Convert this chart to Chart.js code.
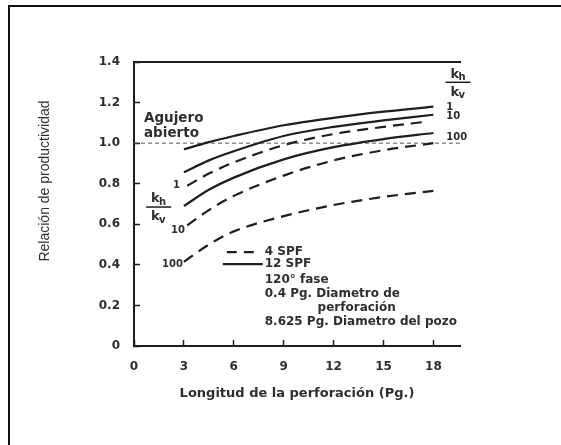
<!DOCTYPE html>
<html>
<head>
<meta charset="utf-8">
<script src="https://cdn.jsdelivr.net/npm/chart.js@4.4.1/dist/chart.umd.min.js"></script>
<style>
  html, body { margin: 0; padding: 0; background: #fff; overflow: hidden; }
  #marco { position: absolute; left: 8px; top: 5px; width: 700px; height: 600px; border: 2px solid #111; }
  #grafica { position: absolute; left: 0; top: 0; }
</style>
</head>
<body>
<div id="marco"></div>
<canvas id="grafica" width="561" height="445"></canvas>
<script>
// longitud de la perforación (Pg.)
const longitudes = [3, 4.5, 6, 9, 12, 15, 18];
const longitudes4k1 = [3.2, 4.5, 6, 9, 12, 15, 17.5];
const longitudes4k10 = [3.2, 4.5, 6, 9, 12, 15, 18];

// 12 SPF (linea continua) para kh/kv = 1, 10, 100
const spf12k1 = [0.97, 1.005, 1.035, 1.088, 1.125, 1.155, 1.18];
const spf12k10 = [0.856, 0.915, 0.96, 1.035, 1.08, 1.112, 1.14];
const spf12k100 = [0.69, 0.77, 0.83, 0.92, 0.98, 1.02, 1.05];

// 4 SPF (linea discontinua)
const spf4k1 = [0.79, 0.85, 0.905, 0.99, 1.045, 1.08, 1.105];
const spf4k10 = [0.595, 0.67, 0.74, 0.84, 0.915, 0.965, 1.0];
const spf4k100 = [0.415, 0.5, 0.565, 0.64, 0.695, 0.735, 0.765];

const agujeroAbierto = 1.0;
const ticksX = [0, 3, 6, 9, 12, 15, 18];
const ticksY = [0, 0.2, 0.4, 0.6, 0.8, 1.0, 1.2, 1.4];
const xMax = 19.6;

const TINTA = '#1e1e1e';
const TEXTO = '#2e2e2e';
const FUENTE = 'DejaVu Sans';

function serie(xs, ys, discontinua) {
    return {
        data: xs.map((x, i) => ({ x: x, y: ys[i] })),
        borderColor: TINTA,
        borderWidth: 2.2,
        borderDash: discontinua ? [11, 7] : [],
        pointRadius: 0,
        tension: 0.4,
        cubicInterpolationMode: 'monotone',
        fill: false
    };
}

// textos sobre la grafica (posiciones en unidades de los ejes)
const textos = {
    id: 'textos',
    afterDraw(chart) {
        const ctx = chart.ctx;
        const sx = chart.scales.x, sy = chart.scales.y;
        const px = v => sx.getPixelForValue(v);
        const py = v => sy.getPixelForValue(v);

        ctx.save();
        ctx.fillStyle = TEXTO;
        ctx.strokeStyle = TINTA;
        ctx.textBaseline = 'middle';

        // titulo eje y
        ctx.save();
        ctx.translate(45, 181);
        ctx.rotate(-Math.PI / 2);
        ctx.textAlign = 'center';
        ctx.font = '14px "Liberation Sans"';
        ctx.fillText('Relación de productividad', 0, 0);
        ctx.restore();

        // agujero abierto
        ctx.textAlign = 'left';
        ctx.font = 'bold 13.5px "' + FUENTE + '"';
        ctx.fillText('Agujero', px(0.6), py(1.12));
        ctx.fillText('abierto', px(0.6), py(1.05));

        // kh / kv
        function fraccion(cx, cyBarra) {
            ctx.textAlign = 'left';
            ctx.font = 'bold 13px "' + FUENTE + '"';
            ctx.fillText('k', cx - 7, cyBarra - 8);
            ctx.fillText('k', cx - 7, cyBarra + 10);
            ctx.font = 'bold 10px "' + FUENTE + '"';
            ctx.fillText('h', cx + 1, cyBarra - 5);
            ctx.fillText('v', cx + 1, cyBarra + 13);
            ctx.lineWidth = 1.5;
            ctx.beginPath();
            ctx.moveTo(cx - 12, cyBarra);
            ctx.lineTo(cx + 13, cyBarra);
            ctx.stroke();
        }
        fraccion(px(1.45), py(0.685));
        fraccion(px(19.45), py(1.3));

        // etiquetas de las curvas
        ctx.font = 'bold 10px "' + FUENTE + '"';
        ctx.textAlign = 'right';
        ctx.fillText('1', px(2.76), py(0.793));
        ctx.fillText('10', px(3.06), py(0.568));
        ctx.fillText('100', px(2.94), py(0.404));
        ctx.textAlign = 'left';
        ctx.fillText('1', px(18.78), py(1.178));
        ctx.fillText('10', px(18.78), py(1.13));
        ctx.fillText('100', px(18.78), py(1.03));

        // leyenda
        ctx.lineWidth = 2.2;
        ctx.setLineDash([10, 7]);
        ctx.beginPath();
        ctx.moveTo(px(5.58), py(0.463));
        ctx.lineTo(px(7.2), py(0.463));
        ctx.stroke();
        ctx.setLineDash([]);
        ctx.beginPath();
        ctx.moveTo(px(5.34), py(0.404));
        ctx.lineTo(px(7.74), py(0.404));
        ctx.stroke();

        ctx.font = 'bold 12px "' + FUENTE + '"';
        ctx.fillText('4 SPF', px(7.86), py(0.463));
        ctx.fillText('12 SPF', px(7.86), py(0.404));
        ctx.fillText('120° fase', px(7.86), py(0.325));
        ctx.fillText('0.4 Pg. Diametro de', px(7.86), py(0.256));
        ctx.fillText('perforación', px(11.04), py(0.187));
        ctx.fillText('8.625 Pg. Diametro del pozo', px(7.86), py(0.118));
        ctx.restore();
    }
};

const fuenteTicks = { family: FUENTE, weight: 'bold', size: 12 };

new Chart(document.getElementById('grafica').getContext('2d'), {
    type: 'line',
    data: {
        datasets: [
            serie(longitudes, spf12k1, false),
            serie(longitudes, spf12k10, false),
            serie(longitudes, spf12k100, false),
            serie(longitudes4k1, spf4k1, true),
            serie(longitudes4k10, spf4k10, true),
            serie(longitudes, spf4k100, true),
            {
                data: [{ x: 0, y: agujeroAbierto }, { x: xMax, y: agujeroAbierto }],
                borderColor: '#555',
                borderWidth: 1,
                borderDash: [4, 3],
                pointRadius: 0,
                tension: 0
            }
        ]
    },
    options: {
        responsive: false,
        animation: false,
        layout: { padding: { left: 0, top: 62, right: 101, bottom: 0 } },
        plugins: { legend: { display: false }, tooltip: { enabled: false } },
        scales: {
            x: {
                type: 'linear',
                min: 0,
                max: xMax,
                afterBuildTicks: s => { s.ticks = ticksX.map(v => ({ value: v })); },
                afterFit: s => { s.height = 99; },
                border: { display: true, color: TINTA, width: 2 },
                grid: { drawOnChartArea: false, drawTicks: true, tickLength: -6, tickWidth: 1.5, tickColor: TINTA },
                ticks: { color: TEXTO, font: fuenteTicks, padding: 20, maxRotation: 0 },
                title: {
                    display: true,
                    text: 'Longitud de la perforación (Pg.)',
                    color: TEXTO,
                    font: { family: FUENTE, weight: 'bold', size: 13 },
                    padding: { top: 0, bottom: 44 }
                }
            },
            arriba: {
                type: 'linear',
                position: 'top',
                axis: 'x',
                min: 0,
                max: xMax,
                afterFit: s => { s.height = 0; },
                border: { display: true, color: TINTA, width: 2 },
                grid: { drawOnChartArea: false, drawTicks: false },
                ticks: { display: false }
            },
            y: {
                min: 0,
                max: 1.4,
                afterBuildTicks: s => { s.ticks = ticksY.map(v => ({ value: v })); },
                afterFit: s => { s.width = 134; },
                border: { display: true, color: TINTA, width: 2 },
                grid: { drawOnChartArea: false, drawTicks: true, tickLength: -6, tickWidth: 1.5, tickColor: TINTA },
                ticks: {
                    color: TEXTO,
                    font: fuenteTicks,
                    padding: 20,
                    callback: v => v === 0 ? '0' : v.toFixed(1)
                }
            }
        }
    },
    plugins: [textos]
});
</script>
</body>
</html>
